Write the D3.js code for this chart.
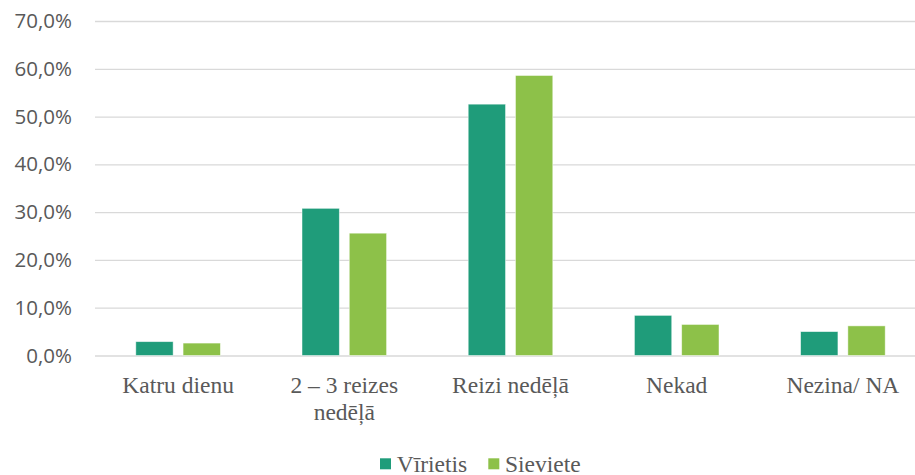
<!DOCTYPE html>
<html>
<head>
	<meta charset="utf-8">
	<title>Biežums pēc dzimuma</title>
	<script src="https://d3js.org/d3.v7.min.js"></script>
	<style type="text/css">
		body { margin: 0; background: #fff; }
		#chart { width: 915px; height: 475px; overflow: hidden; }
	</style>
</head>
<body>

<div id="chart"></div>

<script type="text/javascript">
// data
var categories = ["Katru dienu", "2 – 3 reizes nedēļā", "Reizi nedēļā", "Nekad", "Nezina/ NA"];
var seriesNames = ["Vīrietis", "Sieviete"];
var virietis = [2.9, 30.8, 52.6, 8.4, 5.0];
var sieviete = [2.6, 25.6, 58.6, 6.5, 6.2];
var yTicks = [0, 10, 20, 30, 40, 50, 60, 70];
var colors = ["#1f9c7a", "#8dc149"];

var width = 915, height = 475;
var plotLeft = 95, plotRight = 926, plotTop = 21, plotBottom = 355.5;

var svg = d3.select("#chart")
	.append("svg")
	.attr("width", width)
	.attr("height", height);

var x0 = d3.scaleBand()
	.domain(categories)
	.range([plotLeft, plotRight]);

var x1 = d3.scaleBand()
	.domain(seriesNames)
	.range([-42.3, 42.3])
	.paddingInner(0.21);

var y = d3.scaleLinear()
	.domain([0, 70])
	.range([plotBottom, plotTop]);

var color = d3.scaleOrdinal().domain(seriesNames).range(colors);

// gridlines + y labels
var yAxis = svg.append("g")
	.attr("transform", "translate(" + plotLeft + ",0)")
	.call(d3.axisLeft(y)
		.tickValues(yTicks)
		.tickSize(-(width - plotLeft))
		.tickPadding(23)
		.tickFormat(function(d) { return d3.format(".1f")(d).replace(".", ",") + "%"; }));

yAxis.select(".domain").remove();
yAxis.selectAll(".tick line")
	.attr("stroke", "#d9d9d9")
	.attr("stroke-width", 1.3);
yAxis.selectAll(".tick text")
	.attr("fill", "#595959")
	.style("font-family", "'Open Sans', sans-serif")
	.style("font-size", "20.5px");

// bars
var rows = categories.map(function(c, i) {
	return { cat: c, values: [
		{ name: seriesNames[0], value: virietis[i] },
		{ name: seriesNames[1], value: sieviete[i] }
	]};
});

var group = svg.selectAll(".group")
	.data(rows)
	.enter().append("g")
	.attr("class", "group")
	.attr("transform", function(d) { return "translate(" + (x0(d.cat) + x0.bandwidth() / 2) + ",0)"; });

group.selectAll("rect")
	.data(function(d) { return d.values; })
	.enter().append("rect")
	.attr("x", function(d) { return x1(d.name); })
	.attr("y", function(d) { return y(d.value); })
	.attr("width", x1.bandwidth())
	.attr("height", function(d) { return y(0) - y(d.value); })
	.attr("fill", function(d) { return color(d.name); })
	.attr("stroke", "#ffffff")
	.attr("stroke-opacity", 0.6)
	.attr("stroke-width", 0.8);

// category labels, wrapped
var xLabels = svg.append("g")
	.selectAll("text")
	.data(categories)
	.enter().append("text")
	.attr("x", function(d) { return x0(d) + x0.bandwidth() / 2; })
	.attr("y", 392.7)
	.attr("text-anchor", "middle")
	.attr("fill", "#595959")
	.style("font-family", "'Liberation Serif', 'Times New Roman', serif")
	.style("font-size", "23.5px");

xLabels.each(function(d) {
	var text = d3.select(this);
	var words = d.split(" ");
	var line = [];
	var tspan = text.append("tspan").attr("x", text.attr("x")).attr("dy", 0);
	words.forEach(function(w) {
		line.push(w);
		tspan.text(line.join(" "));
		if (tspan.node().getComputedTextLength() > 150 && line.length > 1) {
			line.pop();
			tspan.text(line.join(" "));
			line = [w];
			tspan = text.append("tspan").attr("x", text.attr("x")).attr("dy", 27.5).text(w);
		}
	});
});

// legend
var legend = svg.append("g").attr("transform", "translate(380,0)");
var legendItems = legend.selectAll("g")
	.data(seriesNames)
	.enter().append("g")
	.attr("transform", function(d, i) { return "translate(" + (i * 108.3) + ",0)"; });

legendItems.append("rect")
	.attr("x", 0)
	.attr("y", 458.3)
	.attr("width", 11)
	.attr("height", 11)
	.attr("fill", function(d) { return color(d); });

legendItems.append("text")
	.attr("x", 16.7)
	.attr("y", 471.7)
	.attr("fill", "#595959")
	.style("font-family", "'Liberation Serif', 'Times New Roman', serif")
	.style("font-size", "23.5px")
	.text(function(d) { return d; });
</script>

</body>
</html>
